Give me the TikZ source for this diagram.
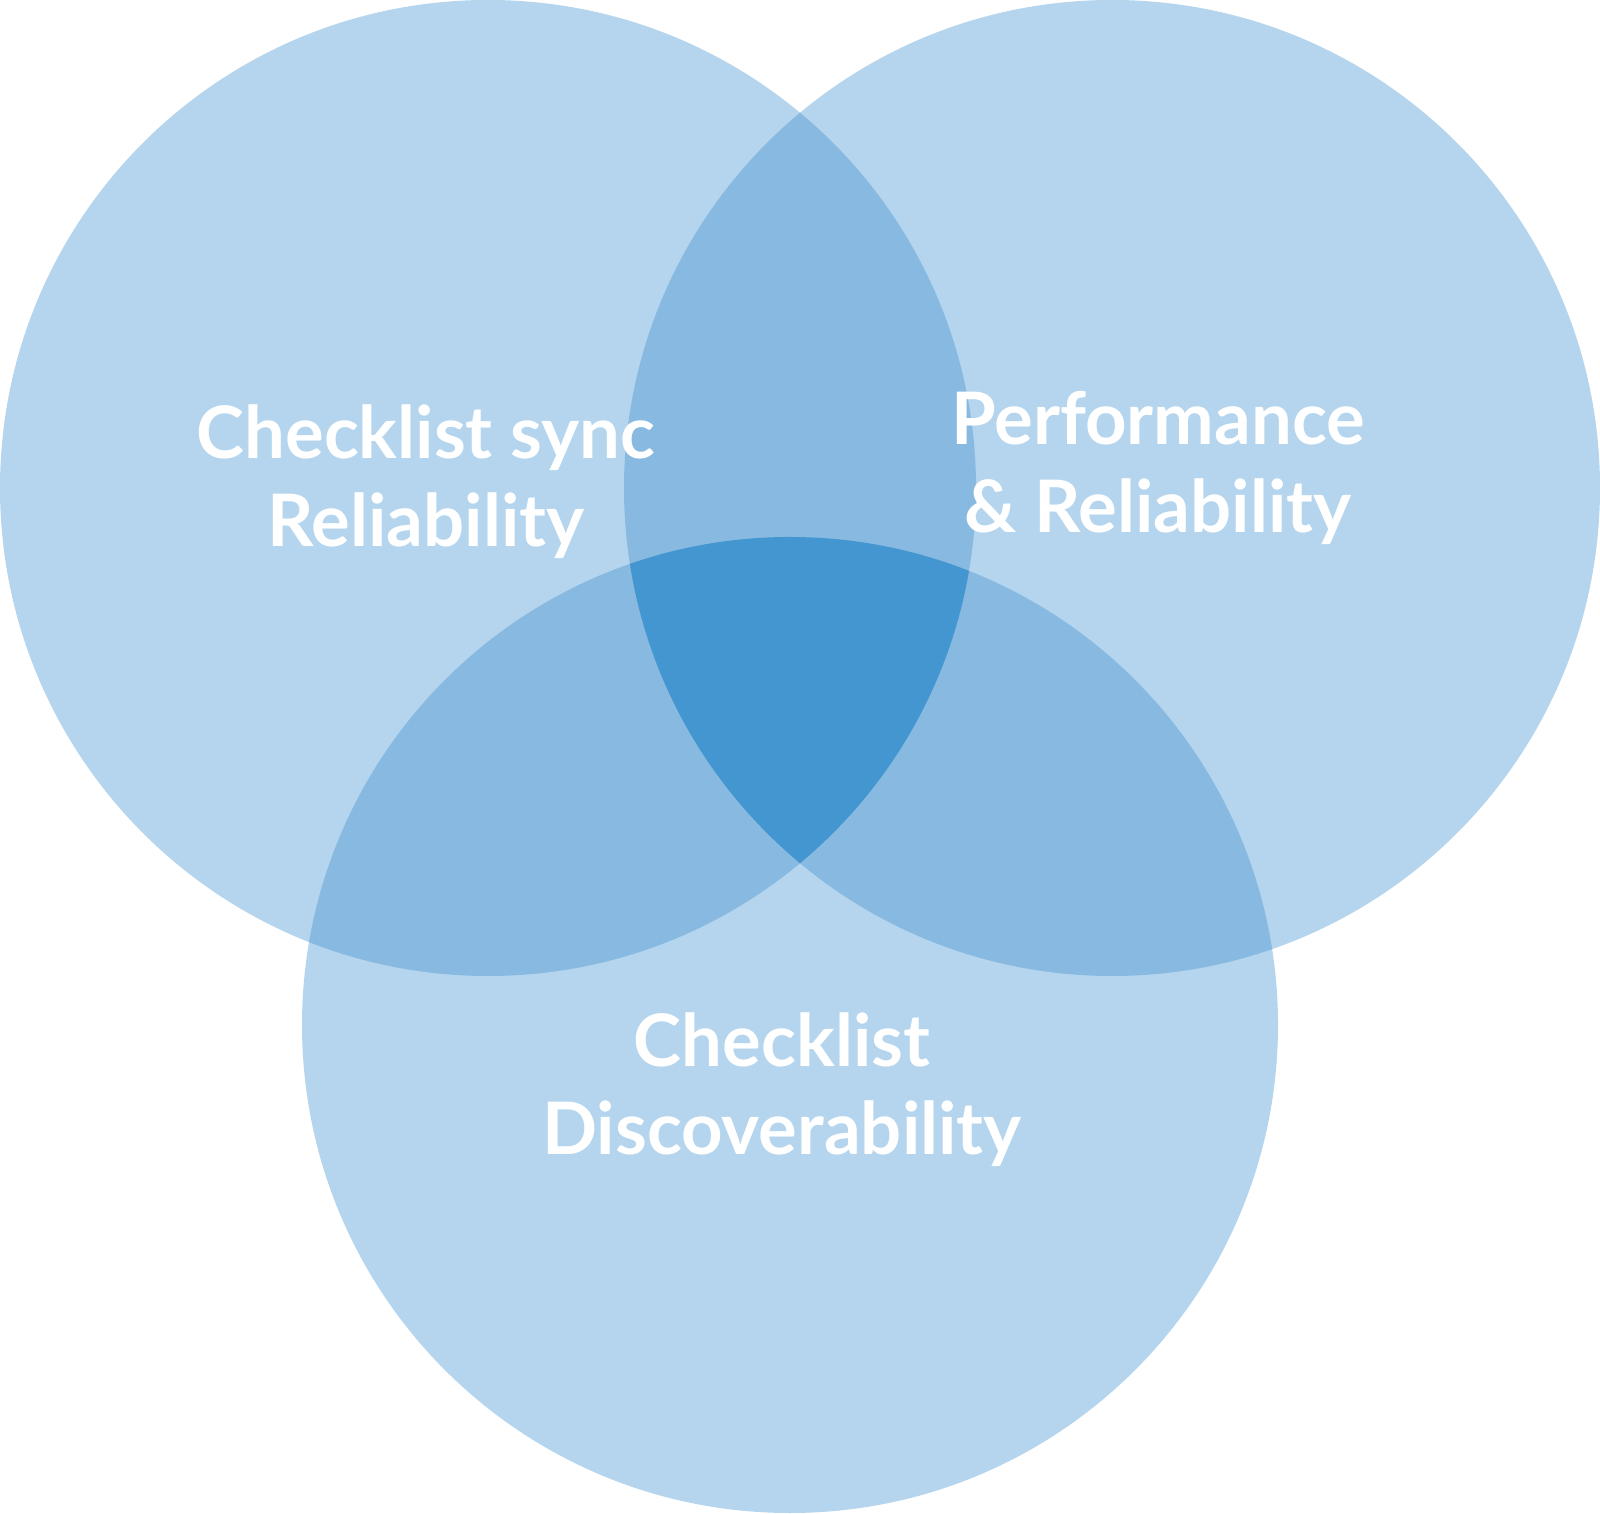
\documentclass[tikz,border=0pt]{standalone}
\usepackage{fontspec}
\setmainfont{Lato}[UprightFont=* Bold]
\usepackage{tikz}

\begin{document}
\begin{tikzpicture}
		[line cap=round,
		%Styles
		area label/.style={text=white,align=center,anchor=base,inner sep=0pt,
			font=\fontsize{20.6pt}{25.3pt}\selectfont}
		]
		
		%Colors
		\definecolor{onecolor}{HTML}{B4D5ED}	%single circle
		\definecolor{twocolor}{HTML}{87B9E1}	%two circles
		\definecolor{threecolor}{HTML}{4396D0}	%all three
		
		\useasboundingbox (0,0) rectangle (16,15.13);
		
		%The circles
		\def\sync{(4.88,10.25) circle (4.88)}
		\def\perf{(11.12,10.25) circle (4.88)}
		\def\disc{(7.90,4.88) circle (4.88)}
		
		\fill[onecolor] \sync;
		\fill[onecolor] \perf;
		\fill[onecolor] \disc;
		
		%Overlaps
		\begin{scope}
			\clip \sync;
			\fill[twocolor] \perf;
			\fill[twocolor] \disc;
		\end{scope}
		\begin{scope}
			\clip \perf;
			\fill[twocolor] \disc;
		\end{scope}
		\begin{scope}
			\clip \sync;
			\clip \perf;
			\fill[threecolor] \disc;
		\end{scope}
		
		%Labels (base = last line)
		\node[area label] (sync) at (4.26,9.66) {Checklist sync\\Reliability};
		\node[area label] (perf) at (11.58,9.80) {Performance\\\& Reliability};
		\node[area label] (disc) at (7.82,3.58) {Checklist\\Discoverability};
	\end{tikzpicture}
\end{document}
